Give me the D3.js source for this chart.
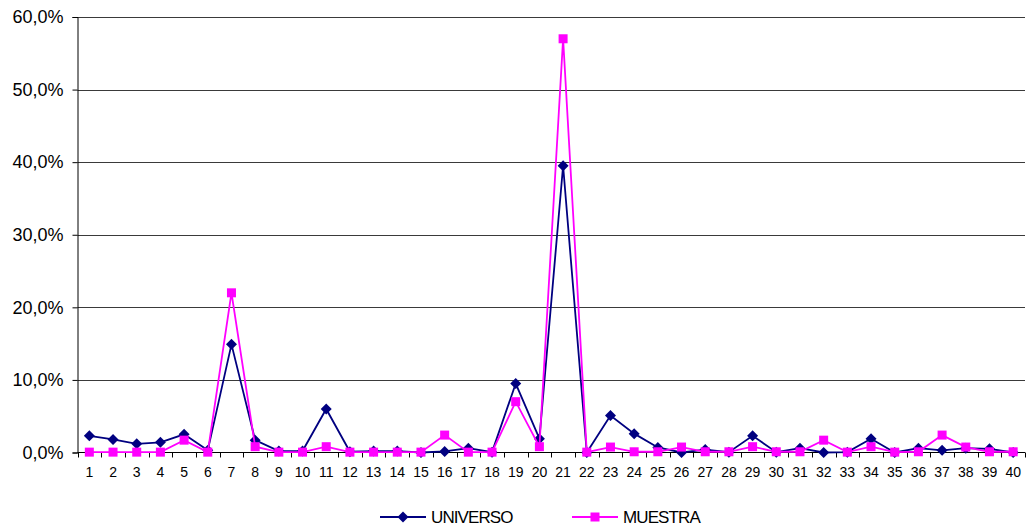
<!DOCTYPE html>
<html>
<head>
<meta charset="utf-8">
<script src="https://cdn.jsdelivr.net/npm/d3@7"></script>
<style>
  html, body { margin: 0; padding: 0; background: #fff; }
  svg { display: block; font-family: "Liberation Sans", Arial, sans-serif; }
</style>
</head>
<body>
<svg id="chart" width="1026" height="531"></svg>
<script>
const categories = d3.range(1, 41).map(String);
const universo = [2.3, 1.8, 1.2, 1.4, 2.5, 0.3, 14.9, 1.7, 0.2, 0.2,
                  6.0, 0.1, 0.2, 0.2, 0.0, 0.15, 0.6, 0.05, 9.5, 1.9,
                  39.5, 0.0, 5.1, 2.6, 0.7, 0.0, 0.4, 0.05, 2.3, 0.05,
                  0.6, 0.0, 0.05, 1.9, 0.0, 0.6, 0.3, 0.6, 0.5, 0.0];
const muestra = [0.05, 0.05, 0.05, 0.05, 1.7, 0.05, 22.0, 0.8, 0.05, 0.05,
                 0.8, 0.05, 0.05, 0.05, 0.05, 2.4, 0.05, 0.05, 7.0, 0.8,
                 57.0, 0.05, 0.75, 0.1, 0.1, 0.75, 0.1, 0.1, 0.8, 0.1,
                 0.1, 1.7, 0.05, 0.8, 0.05, 0.1, 2.4, 0.75, 0.1, 0.1];
const yTicks = [0, 10, 20, 30, 40, 50, 60];
const seriesNames = ["UNIVERSO", "MUESTRA"];

const svg = d3.select("#chart");
const pLeft = 77.5, pRight = 1025, pTop = 17, pBottom = 452.5;

const x = d3.scaleBand().domain(categories).range([pLeft, pRight]).padding(0);
const y = d3.scaleLinear().domain([0, 60]).range([pBottom, pTop]);
const fmt = v => v.toFixed(1).replace(".", ",") + "%";

// gridlines
svg.append("g").selectAll("line").data(yTicks.filter(t => t > 0)).join("line")
  .attr("x1", pLeft).attr("x2", pRight)
  .attr("y1", d => Math.round(y(d)) + 0.5).attr("y2", d => Math.round(y(d)) + 0.5)
  .attr("stroke", "#3a3a3a").attr("stroke-width", 1);

// y axis
const yAxis = svg.append("g").attr("transform", `translate(${pLeft},0)`)
  .call(d3.axisLeft(y).tickValues(yTicks).tickFormat(fmt).tickSize(5).tickPadding(9));
yAxis.select(".domain").attr("stroke", "#000");
yAxis.selectAll(".tick line").attr("stroke", "#000");
yAxis.selectAll("text").attr("font-size", 18).attr("fill", "#000")
  .attr("font-family", "Liberation Sans, Arial, sans-serif");

// x axis
const xAxis = svg.append("g").attr("transform", `translate(0,${pBottom})`)
  .call(d3.axisBottom(x).tickSize(0).tickPadding(15));
xAxis.select(".domain").attr("stroke", "#000").attr("d", `M${pLeft},0H${pRight}`);
xAxis.selectAll("text").attr("font-size", 14).attr("fill", "#000")
  .attr("font-family", "Liberation Sans, Arial, sans-serif");
// category boundary ticks
svg.append("g").selectAll("line").data(d3.range(0, categories.length + 1)).join("line")
  .attr("x1", i => Math.round(pLeft + i * x.step()) + 0.5)
  .attr("x2", i => Math.round(pLeft + i * x.step()) + 0.5)
  .attr("y1", pBottom).attr("y2", pBottom + 5)
  .attr("stroke", "#000");

const cx = c => x(c) + x.bandwidth() / 2;
const line = d3.line().x((d, i) => cx(categories[i])).y(d => y(d));

function drawSeries(data, color, shape) {
  const g = svg.append("g");
  g.append("path").datum(data).attr("d", line)
    .attr("fill", "none").attr("stroke", color).attr("stroke-width", 1.8);
  if (shape === "diamond") {
    g.selectAll("path.m").data(data).join("path").attr("class", "m")
      .attr("d", "M0,-5.5L5.5,0L0,5.5L-5.5,0Z")
      .attr("transform", (d, i) => `translate(${cx(categories[i])},${y(d)})`)
      .attr("fill", color);
  } else {
    g.selectAll("rect.m").data(data).join("rect").attr("class", "m")
      .attr("x", (d, i) => cx(categories[i]) - 4.5).attr("y", d => y(d) - 4.5)
      .attr("width", 9).attr("height", 9).attr("fill", color);
  }
}
drawSeries(universo, "#000080", "diamond");
drawSeries(muestra, "#ff00ff", "square");

// legend
const legend = [
  { name: seriesNames[0], color: "#000080", shape: "diamond", x: 380 },
  { name: seriesNames[1], color: "#ff00ff", shape: "square", x: 572 }
];
const ly = 517;
legend.forEach(l => {
  const g = svg.append("g");
  g.append("line").attr("x1", l.x).attr("x2", l.x + 46).attr("y1", ly).attr("y2", ly)
    .attr("stroke", l.color).attr("stroke-width", 1.8);
  if (l.shape === "diamond") {
    g.append("path").attr("d", "M0,-5.5L5.5,0L0,5.5L-5.5,0Z")
      .attr("transform", `translate(${l.x + 23},${ly})`).attr("fill", l.color);
  } else {
    g.append("rect").attr("x", l.x + 23 - 4.5).attr("y", ly - 4.5)
      .attr("width", 9).attr("height", 9).attr("fill", l.color);
  }
  g.append("text").attr("x", l.x + 51).attr("y", ly + 6)
    .attr("font-size", 17).attr("letter-spacing", "-0.9px").attr("fill", "#000")
    .text(l.name);
});
</script>
</body>
</html>
